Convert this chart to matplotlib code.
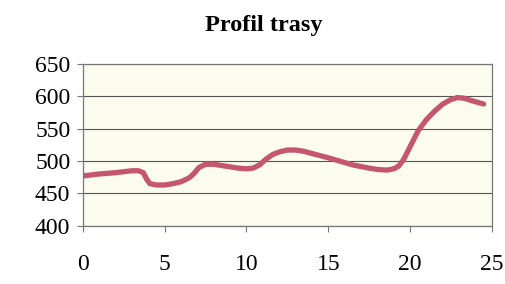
import matplotlib.pyplot as plt
import numpy as np

# profile of the route
km = [0, 1, 2, 3, 3.4, 3.7, 3.9, 4.1, 4.5, 5, 5.5, 6, 6.5, 6.8, 7.1, 7.5, 8.0, 8.5, 9.5,
      10.0, 10.4, 10.8, 11.2, 11.6, 12.0, 12.5, 13.0, 13.5, 15, 16.5, 17.5, 18, 18.6, 19.0,
      19.3, 19.6, 20.0, 20.5, 21.0, 21.5, 22.0, 22.5, 22.9, 23.3, 23.8, 24.5]
height = [477, 480, 482, 485, 485, 482, 472, 465, 463, 463, 465, 468, 474, 481, 490, 495, 495, 493, 489,
          488, 489, 494, 503, 510, 514, 517, 517, 515, 505, 494, 489, 487, 486, 488,
          492, 502, 522, 547, 564, 577, 588, 595, 598, 597, 593, 588]

y_ticks = [400, 450, 500, 550, 600, 650]
x_ticks = [0, 5, 10, 15, 20, 25]

plt.rcParams['font.family'] = ['Liberation Serif', 'DejaVu Serif']

fig = plt.figure(figsize=(5.05, 2.84), dpi=100)
ax = fig.add_axes([0.164, 0.205, 0.81, 0.57])
ax.set_facecolor('#fbfbee')

ax.plot(km, height, color='#c4566f', lw=3.8, solid_joinstyle='round', solid_capstyle='round')

ax.set_xlim(0, 25)
ax.set_ylim(400, 650)
ax.set_xticks(x_ticks)
ax.set_yticks(y_ticks)
ax.yaxis.grid(True, color='#555555', lw=0.8)
for s in ax.spines.values():
    s.set_color('#777777')
    s.set_linewidth(0.9)
ax.tick_params(axis='x', direction='out', length=4, pad=16, labelsize=17, color='#777777')
ax.tick_params(axis='y', direction='out', length=4, pad=5, labelsize=17, color='#777777')

fig.text(264 / 505, 1 - 25 / 284, 'Profil trasy', fontsize=17.5, fontweight='bold',
         ha='center', va='center')

plt.savefig('out.png', dpi=100)
